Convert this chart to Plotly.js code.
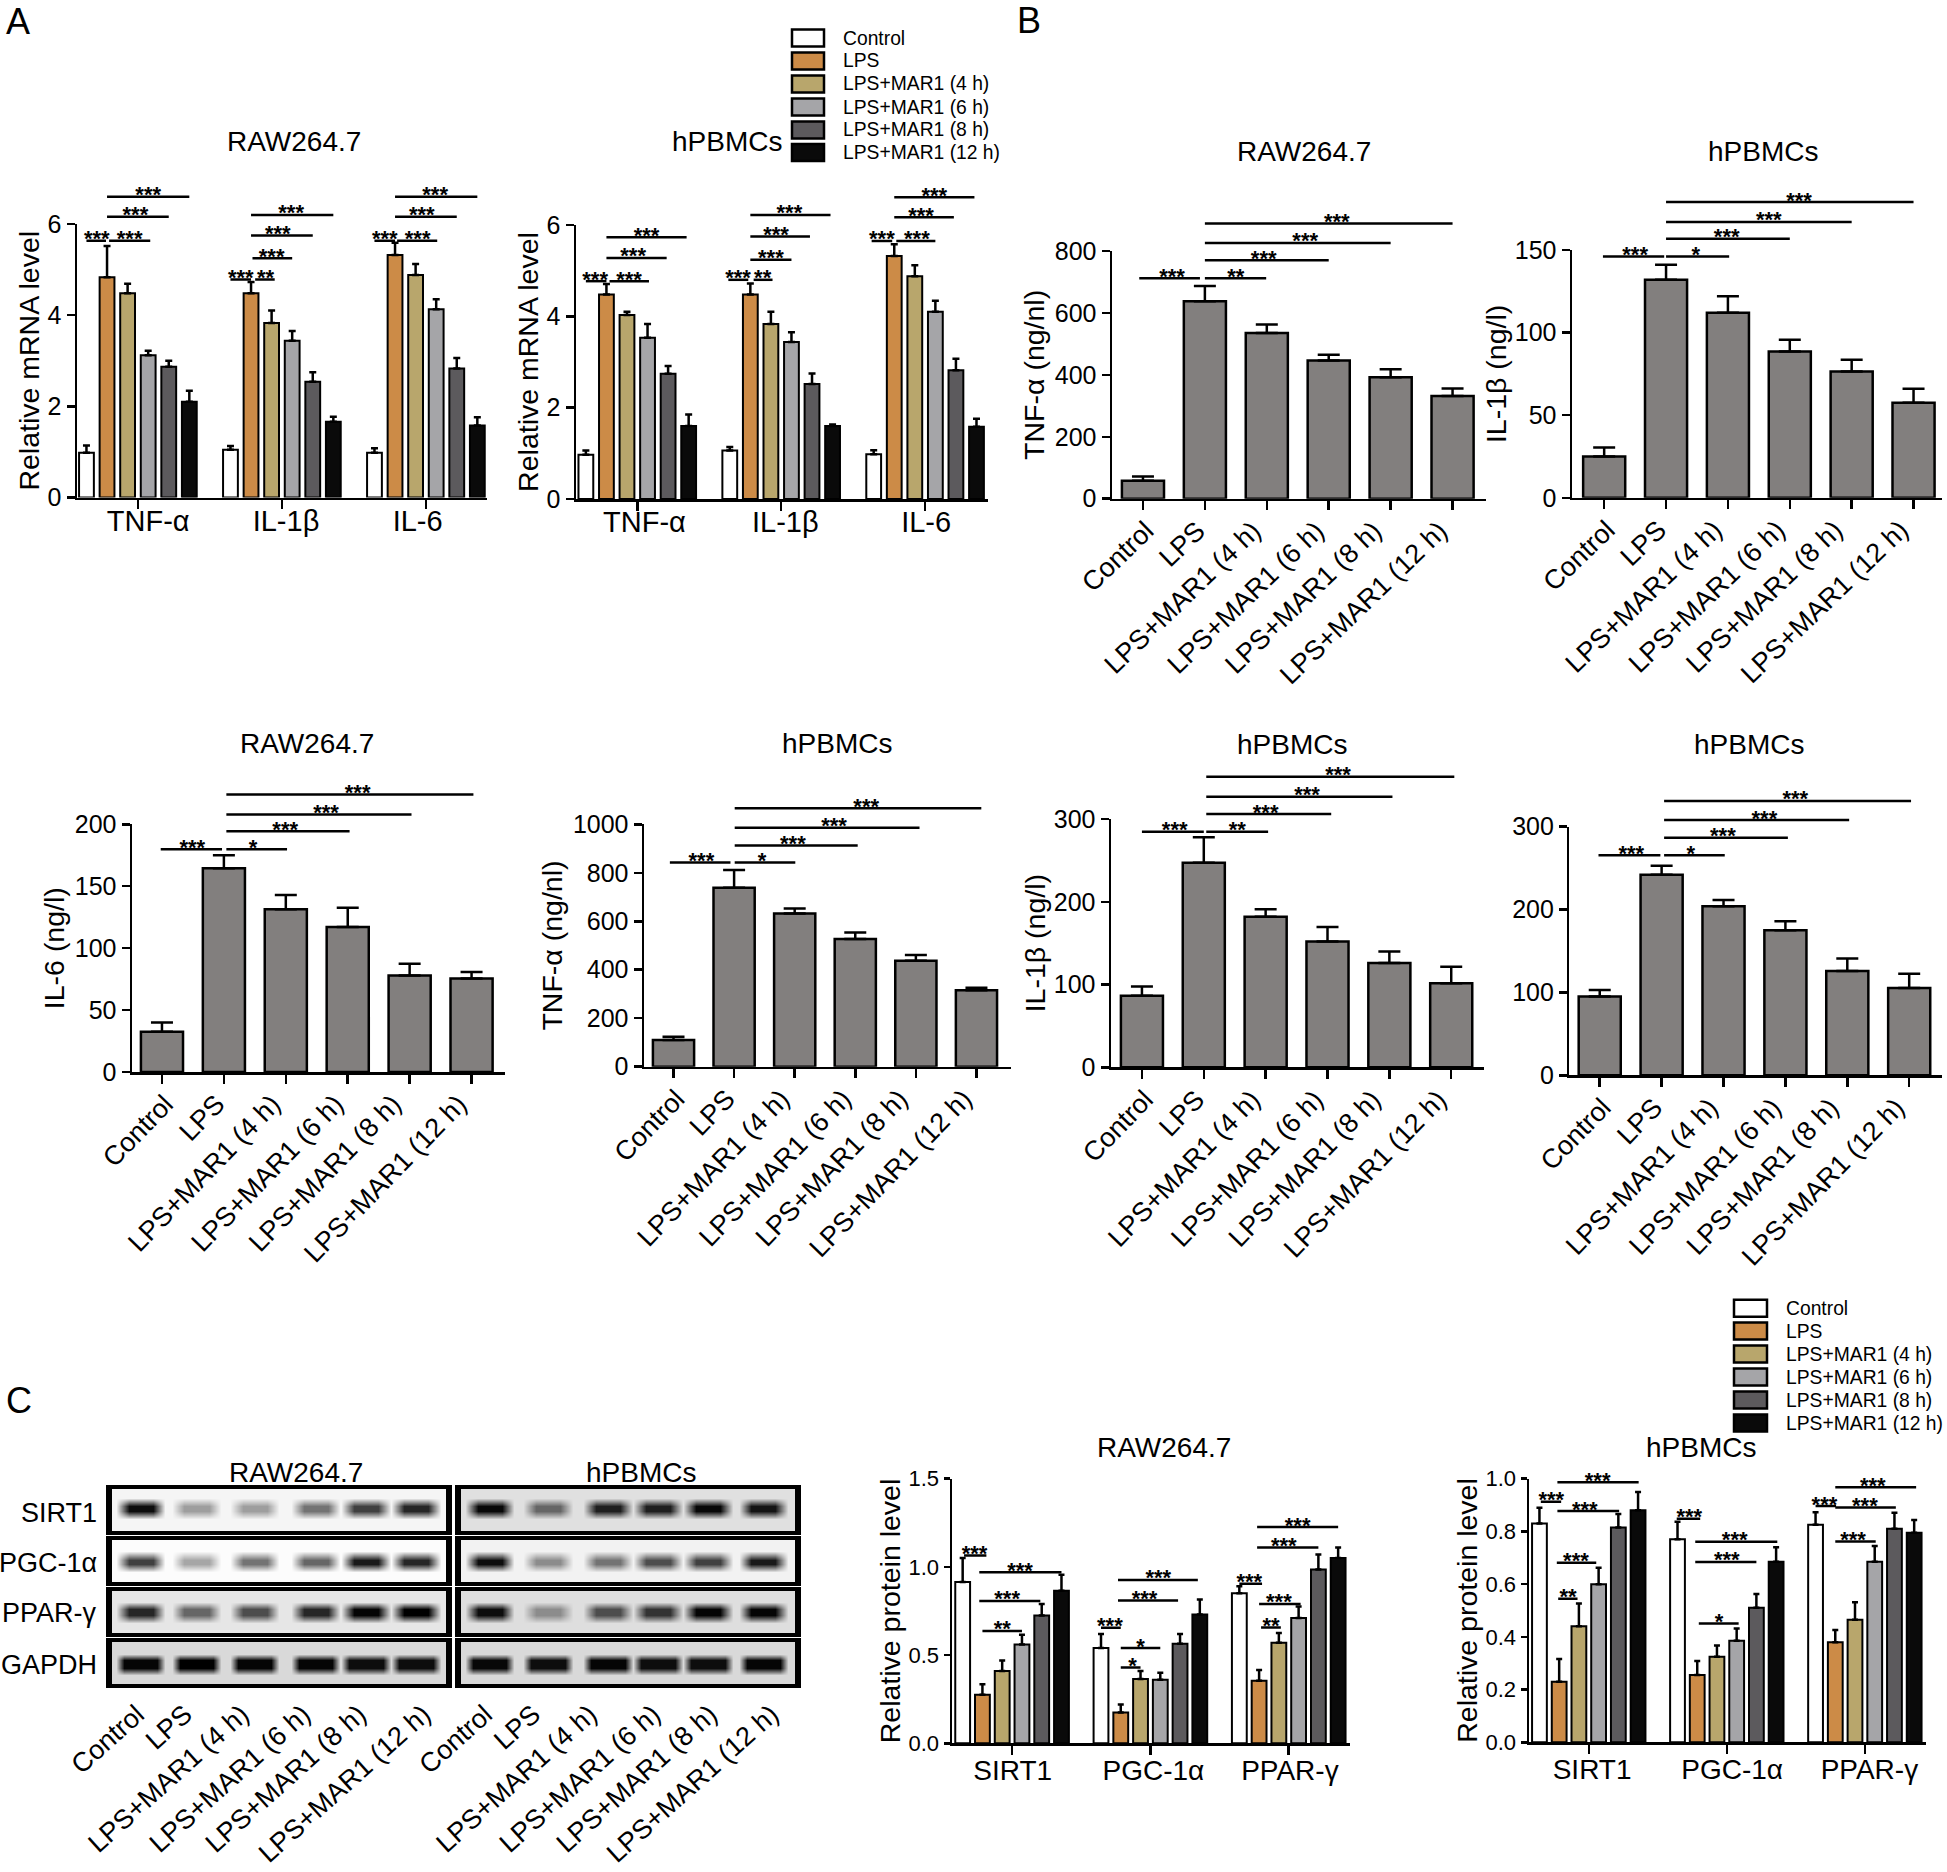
<!DOCTYPE html>
<html>
<head>
<meta charset="utf-8">
<script src="https://cdn.plot.ly/plotly-3.0.1.min.js"></script>
<style>html,body{margin:0;padding:0;background:#fff;overflow:hidden}</style>
</head>
<body>
<div id="chart" style="width:1947px;height:1872px"></div>
<script>
/* ---------- categories ---------- */
const treatments = ['Control','LPS','LPS+MAR1 (4 h)','LPS+MAR1 (6 h)','LPS+MAR1 (8 h)','LPS+MAR1 (12 h)'];
const mrnaTargets = ['TNF-α','IL-1β','IL-6'];
const proteinTargets = ['SIRT1','PGC-1α','PPAR-γ'];
const blotRows = ['SIRT1','PGC-1α','PPAR-γ','GAPDH'];

/* ---------- panel A: relative mRNA (rows = target, columns = treatment) ---------- */
const a1Means = [[0.98,4.83,4.48,3.12,2.87,2.10],[1.05,4.48,3.83,3.44,2.54,1.66],[0.98,5.32,4.88,4.13,2.83,1.58]];
const a1Tops  = [[1.14,5.52,4.69,3.22,3.00,2.34],[1.13,4.73,4.10,3.65,2.75,1.77],[1.08,5.59,5.12,4.35,3.06,1.76]];
const a2Means = [[0.97,4.48,4.03,3.53,2.74,1.60],[1.06,4.48,3.83,3.44,2.52,1.60],[0.98,5.32,4.88,4.10,2.82,1.58]];
const a2Tops  = [[1.06,4.71,4.10,3.83,2.91,1.85],[1.14,4.72,4.10,3.65,2.75,1.63],[1.07,5.58,5.12,4.34,3.07,1.76]];

/* ---------- panel B: cytokines (one value per treatment) ---------- */
const b1Means = [58,638,535,446,392,332];     const b1Tops = [72,687,563,465,418,356];
const b2Means = [25,132,112,88.5,76.5,57.5];  const b2Tops = [30.5,141,122,95.7,83.5,66];
const b3Means = [32.5,164.5,131.5,117,78,75.5]; const b3Tops = [40,175,143,132.7,87.5,80.8];
const b4Means = [110,738,632,527,437,315];    const b4Tops = [124,811,653,554,461,326];
const b5Means = [86.5,247,182,152,126,101.5]; const b5Tops = [97.5,278,191,169.5,140,121.6];
const b6Means = [95,242,204,175,126,105.5];   const b6Tops = [103,253,211.5,185.8,141,122.6];

/* ---------- panel C: relative protein ---------- */
const c1Means = [[0.915,0.275,0.41,0.56,0.725,0.865],[0.54,0.175,0.365,0.36,0.565,0.73],[0.85,0.355,0.57,0.71,0.985,1.05]];
const c1Tops  = [[1.05,0.335,0.47,0.615,0.79,0.955],[0.62,0.22,0.41,0.40,0.62,0.815],[0.89,0.415,0.625,0.775,1.07,1.11]];
const c2Means = [[0.83,0.23,0.44,0.60,0.815,0.88],[0.77,0.255,0.325,0.385,0.51,0.685],[0.825,0.38,0.465,0.685,0.81,0.795]];
const c2Tops  = [[0.89,0.316,0.527,0.662,0.866,0.95],[0.837,0.308,0.367,0.432,0.563,0.74],[0.873,0.426,0.531,0.745,0.871,0.843]];

/* ---------- significance brackets: from, to, level, label, label position ---------- */
const a1Sig = [[0,0.95,5.63,'***',0.5],[1.1,3.1,5.63,'***',2.1],[1,4,6.16,'***',2.38],[1,5,6.6,'***',3.0],
  [7,8,4.78,'***',7.5],[8.2,9.15,4.78,'**',8.7],[8.07,10,5.25,'***',9.0],[8,11,5.75,'***',9.3],[8,12,6.2,'***',9.95],
  [14,15,5.63,'***',14.5],[15.1,17.05,5.63,'***',16.1],[15,18,6.16,'***',16.3],[15,19,6.6,'***',16.95]];
const a2Sig = [[0,1,4.77,'***',0.45],[1.15,3.07,4.77,'***',2.1],[1,3.93,5.28,'***',2.3],[1,4.9,5.73,'***',2.95],
  [6.93,7.9,4.8,'***',7.4],[8.16,9.08,4.8,'**',8.6],[8,10,5.24,'***',9.0],[8,10.9,5.75,'***',9.25],[8,11.9,6.22,'***',9.9],
  [13.9,14.9,5.65,'***',14.4],[15.1,17,5.65,'***',16.1],[15,17.9,6.17,'***',16.3],[15,18.9,6.61,'***',16.95]];
const b1Sig = [[-0.06,0.92,712,'***',0.47],[1,1.99,712,'**',1.5],[1,3,770,'***',1.95],[1,4,826,'***',2.62],[1,5,889,'***',3.13]];
const b2Sig = [[-0.02,0.97,146,'***',0.5],[1,2.02,146,'*',1.48],[1,3,156.8,'***',1.98],[1,4,167,'***',2.66],[1,5,179,'***',3.15]];
const b3Sig = [[-0.02,0.97,179.8,'***',0.49],[1.04,2.02,179.8,'*',1.47],[1.04,3.03,194.3,'***',1.99],[1.04,4.03,208,'***',2.65],[1.04,5.03,224,'***',3.16]];
const b4Sig = [[-0.06,0.94,842,'***',0.46],[1.01,2.01,842,'*',1.46],[1.01,3.04,913,'***',1.97],[1.01,4.06,986,'***',2.65],[1.01,5.08,1066,'***',3.18]];
const b5Sig = [[0,1,284.7,'***',0.53],[1.04,2.04,284.7,'**',1.54],[1.04,3.06,306,'***',2.0],[1.04,4.05,327,'***',2.67],[1.04,5.05,351,'***',3.17]];
const b6Sig = [[-0.02,0.98,265.4,'***',0.51],[1.04,2.02,265.4,'*',1.47],[1.04,3.04,286.7,'***',1.99],[1.04,4.03,308,'***',2.66],[1.04,5.03,331,'***',3.16]];
const c1Sig = [[0.07,1.2,1.065,'***',0.6],[0.84,5,0.97,'***',2.9],[0.84,3.93,0.807,'***',2.25],[1,3,0.637,'**',2.0],
  [7,8,0.655,'***',7.45],[7.86,11.9,0.926,'***',9.9],[7.86,10.9,0.81,'***',9.2],[8,10,0.54,'*',9.0],[8,9,0.43,'*',8.6],
  [14,15.15,0.905,'***',14.5],[14.9,19,1.226,'***',16.95],[14.9,18,1.11,'***',16.25],[15,17.1,0.79,'***',16.0],[15.1,16.1,0.657,'**',15.6]];
const c2Sig = [[0.07,1.1,0.913,'***',0.6],[0.91,5.03,0.987,'***',2.95],[0.91,4.04,0.877,'***',2.3],[0.88,2.88,0.681,'***',1.85],[0.95,1.93,0.545,'**',1.45],
  [6.96,8.15,0.848,'***',7.6],[7.9,12.06,0.761,'***',9.9],[7.9,11,0.684,'***',9.5],[8.08,10.1,0.451,'*',9.1],
  [14,15.04,0.896,'***',14.45],[15,19.1,0.968,'***',16.9],[15,18.07,0.891,'***',16.5],[15,17.05,0.762,'***',15.9]];

/* ---------- tick values ---------- */
const mrnaTicks = [0,2,4,6];
const b1Ticks = [0,200,400,600,800];
const b2Ticks = [0,50,100,150];
const b3Ticks = [0,50,100,150,200];
const b4Ticks = [0,200,400,600,800,1000];
const b56Ticks = [0,100,200,300];
const c1Ticks = [0,0.5,1,1.5];
const c2Ticks = [0,0.2,0.4,0.6,0.8,1];
const groupTicks = [2.5,9.5,16.5];
const singleTicks = [0,1,2,3,4,5];
const a1LabelAt = [3.0,9.7,16.1];
const a2LabelAt = [2.85,9.7,16.55];
const c1LabelAt = [2.53,9.65,16.56];
const c2LabelAt = [2.67,9.77,16.73];
const rotatedLabelAt = [0.05,0.88,1.78,2.8,3.73,4.79];

/* ---------- western blot band darkness (0 white .. 1 black), six lanes ---------- */
const blotLeft  = [[0.95,0.38,0.38,0.55,0.75,0.85],[0.75,0.35,0.55,0.6,0.9,0.85],[0.85,0.6,0.7,0.85,0.98,1],[0.98,1,0.98,0.98,0.95,0.95]];
const blotRight = [[0.97,0.6,0.88,0.88,0.97,0.92],[0.95,0.45,0.55,0.7,0.75,0.9],[0.95,0.45,0.7,0.8,0.98,0.98],[0.97,0.95,0.98,0.95,0.95,0.98]];
const blotBgLeft  = [0.04,0.01,0.1,0.15];
const blotBgRight = [0.12,0.05,0.13,0.15];
const lanesLeft  = [0.086,0.253,0.427,0.61,0.76,0.91];
const lanesRight = [0.086,0.26,0.44,0.59,0.74,0.905];
const laneLabelsLeft  = [0.075,0.218,0.388,0.572,0.739,0.932];
const laneLabelsRight = [0.072,0.216,0.385,0.575,0.745,0.929];
const bandCentre = [0.47,0.52,0.5,0.53];
const bandHalfHeight = [0.06,0.05,0.07,0.09];

/* ---------- style ---------- */
const W = 1947, H = 1872, FONT = '"Liberation Sans", Arial, sans-serif';
const seriesColors = ['#ffffff','#cc8b47','#b8a66c','#a5a5a8','#5c5a5d','#0a0a0a'];
const barGray = '#827f7e';

const layout = {width:W, height:H, margin:{l:0,r:0,t:0,b:0}, autosize:false, showlegend:false,
  paper_bgcolor:'#fff', plot_bgcolor:'rgba(0,0,0,0)', font:{family:FONT,color:'#000'},
  annotations:[], shapes:[], bargap:0};
const traces = [];
let axisId = 0;
const newAxes = () => { axisId++; const s = axisId===1?'':String(axisId); return {xr:'x'+s, yr:'y'+s, xk:'xaxis'+s, yk:'yaxis'+s}; };
const domX = (a,b) => [a/W,b/W];
const domY = (top,bot) => [1-bot/H,1-top/H];

function text(str,x,y,size,extra){
  layout.annotations.push(Object.assign({text:str,x:x/W,y:1-y/H,xref:'paper',yref:'paper',showarrow:false,
    xanchor:'center',yanchor:'middle',font:{family:FONT,size:size,color:'#000'}},extra||{}));
}

function chart(p){
  const a = newAxes();
  const plotH = p.bot-p.top;
  layout[a.xk] = {domain:domX(p.left,p.right), range:p.xr, anchor:a.yr, showgrid:false, zeroline:false, showline:true,
    linecolor:'#000', linewidth:2.5, ticks:'outside', ticklen:9, tickwidth:2.5, tickcolor:'#000', tickmode:'array',
    tickvals:p.tickX, ticktext:p.tickX.map(()=>''), showticklabels:false};
  layout[a.yk] = {domain:domY(p.top,p.bot), range:[0,p.ymax], anchor:a.xr, showgrid:false, zeroline:false, showline:true,
    linecolor:'#000', linewidth:2.5, ticks:'outside', ticklen:p.ytick||8, tickwidth:2.5, tickcolor:'#000', tickmode:'array',
    tickvals:p.yticks, ticktext:p.yticks.map(v=>p.fmt?v.toFixed(1):String(v)), tickfont:{family:FONT,size:p.yfont,color:'#000'},
    title: p.ytitle?{text:p.ytitle,font:{family:FONT,size:28.5,color:'#000'},standoff:p.stand}:undefined};

  if(Array.isArray(p.means[0])){
    treatments.forEach((name,s)=>{
      const ys = p.means.map(r=>r[s]);
      const tops = p.tops.map(r=>r[s]);
      traces.push({type:'bar',name:name,x:p.means.map((r,g)=>g*7+s),y:ys,width:p.bw,xaxis:a.xr,yaxis:a.yr,
        marker:{color:seriesColors[s],line:{color:'#000',width:2}},hoverinfo:'skip',
        error_y:{type:'data',symmetric:false,array:tops.map((t,i)=>t-ys[i]),arrayminus:ys.map(()=>0),color:'#000',thickness:2.5,width:p.cap}});
    });
  } else {
    traces.push({type:'bar',name:p.ytitle||'',x:p.means.map((v,i)=>i),y:p.means,width:p.bw,xaxis:a.xr,yaxis:a.yr,
      marker:{color:barGray,line:{color:'#000',width:2.5}},hoverinfo:'skip',
      error_y:{type:'data',symmetric:false,array:p.tops.map((t,i)=>t-p.means[i]),arrayminus:p.means.map(()=>0),color:'#000',thickness:2.5,width:p.cap}});
  }

  /* taller transparent subplot on the same scale: brackets sit above the axis, labels below it */
  const o = newAxes();
  const extra = 115;
  layout[o.xk] = {domain:domX(p.left,p.right), range:p.xr, anchor:o.yr, showgrid:false, zeroline:false, showline:false, ticks:'',
    tickmode:'array', tickvals:p.labelAt, ticktext:p.labels, tickangle:p.angle, tickfont:{family:FONT,size:p.xfont,color:'#000'}, ticklabelstandoff:p.xstand||0};
  layout[o.yk] = {domain:domY(p.top-extra,p.bot), range:[0,p.ymax*(plotH+extra)/plotH], anchor:o.xr, visible:false};
  const lx=[], ly=[];
  p.sig.forEach(b=>{ lx.push(b[0],b[1],null); ly.push(b[2],b[2],null); });
  traces.push({type:'scatter',mode:'lines',x:lx,y:ly,xaxis:o.xr,yaxis:o.yr,line:{color:'#000',width:2.5},hoverinfo:'skip',showlegend:false});
  traces.push({type:'scatter',mode:'text',x:p.sig.map(b=>b[4]),y:p.sig.map(b=>b[2]),text:p.sig.map(b=>b[3]),textposition:'middle center',
    textfont:{family:FONT,size:22,color:'#000',weight:700},xaxis:o.xr,yaxis:o.yr,hoverinfo:'skip',showlegend:false,cliponaxis:false});
}

const rot = -42;
const rotRow1 = -44, rotRow2 = -46;

/* Panel A */
const aCommon = {tickX:groupTicks,labels:mrnaTargets,angle:0,xfont:29,yfont:25,yticks:mrnaTicks,ytitle:'Relative mRNA level',stand:0,bw:0.72,cap:3.5,ymax:6,xstand:3};
chart(Object.assign({},aCommon,{left:77,right:487,top:224,bot:497.5,xr:[-0.46,19.47],means:a1Means,tops:a1Tops,sig:a1Sig,labelAt:a1LabelAt}));
chart(Object.assign({},aCommon,{left:576,right:988,top:225,bot:499,xr:[-0.48,19.56],means:a2Means,tops:a2Tops,sig:a2Sig,labelAt:a2LabelAt}));
/* Panel B */
const bCommon = {tickX:singleTicks,labels:treatments,labelAt:rotatedLabelAt,xfont:27,yfont:25,bw:0.68,cap:11,xr:[-0.5,5.54],xstand:10};
chart(Object.assign({},bCommon,{angle:rotRow1,left:1112,right:1486,top:251,bot:498.7,ymax:800,means:b1Means,tops:b1Tops,sig:b1Sig,yticks:b1Ticks,ytitle:'TNF-α (ng/nl)',stand:2}));
chart(Object.assign({},bCommon,{angle:rotRow1,left:1572,right:1942,top:250,bot:497.8,ymax:150,means:b2Means,tops:b2Tops,sig:b2Sig,yticks:b2Ticks,ytitle:'IL-1β (ng/l)',stand:0,xr:[-0.52,5.46]}));
chart(Object.assign({},bCommon,{angle:rotRow2,left:132,right:505,top:824.3,bot:1072,ymax:200,means:b3Means,tops:b3Tops,sig:b3Sig,yticks:b3Ticks,ytitle:'IL-6 (ng/l)',stand:2,xr:[-0.484,5.54]}));
chart(Object.assign({},bCommon,{angle:rotRow2,left:644,right:1011,top:824.3,bot:1066.7,ymax:1000,means:b4Means,tops:b4Tops,sig:b4Sig,yticks:b4Ticks,ytitle:'TNF-α (ng/nl)',stand:2,xr:[-0.487,5.57]}));
chart(Object.assign({},bCommon,{angle:rotRow2,left:1111,right:1484,top:819,bot:1067.3,ymax:300,means:b5Means,tops:b5Tops,sig:b5Sig,yticks:b56Ticks,ytitle:'IL-1β (ng/l)',stand:0,xr:[-0.5,5.53]}));
chart(Object.assign({},bCommon,{angle:rotRow2,left:1569.4,right:1942,top:826.7,bot:1075.3,ymax:300,means:b6Means,tops:b6Tops,sig:b6Sig,yticks:b56Ticks,xr:[-0.49,5.53]}));
/* Panel C charts */
const cCommon = {tickX:groupTicks,labels:proteinTargets,angle:0,xfont:28,yfont:22,ytick:6,fmt:true,ytitle:'Relative protein level',stand:0,bw:0.75,cap:3,xstand:8};
chart(Object.assign({},cCommon,{left:952,right:1350,top:1478.7,bot:1743.3,xr:[-0.54,19.6],ymax:1.5,means:c1Means,tops:c1Tops,sig:c1Sig,yticks:c1Ticks,labelAt:c1LabelAt}));
chart(Object.assign({},cCommon,{left:1529,right:1926,top:1478.7,bot:1742.3,xr:[-0.53,19.6],ymax:1,means:c2Means,tops:c2Tops,sig:c2Sig,yticks:c2Ticks,labelAt:c2LabelAt}));

/* Panel C blots */
function blot(left,right,top,bot,darkness,bg,lanes,labelsAt,centre,halfH,showTicks,core){
  const a = newAxes();
  const xs=[0], ys=[0, centre-0.25, centre-halfH, centre+halfH, centre+0.25, 1];
  lanes.forEach(c=>xs.push(c-0.074,c-core,c+core,c+0.074));
  xs.push(1);
  const row=[bg]; darkness.forEach(d=>row.push(bg,d,d,bg)); row.push(bg);
  const bgRow=row.map(()=>bg);
  const z=[bgRow,bgRow,row,row,bgRow,bgRow];
  traces.push({type:'heatmap',x:xs,y:ys,z:z,zmin:0,zmax:1,zsmooth:'best',showscale:false,hoverinfo:'skip',
    colorscale:[[0,'#ffffff'],[1,'#000000']],xaxis:a.xr,yaxis:a.yr});
  layout[a.xk]={domain:domX(left,right),range:[0,1],anchor:a.yr,showgrid:false,zeroline:false,showline:true,mirror:true,linecolor:'#000',linewidth:4,
    ticks:'',tickmode:'array',tickvals:showTicks?labelsAt:[],ticktext:showTicks?treatments:[],tickangle:rot,showticklabels:showTicks,
    tickfont:{family:FONT,size:27,color:'#000'},ticklabelstandoff:0};
  layout[a.yk]={domain:domY(top,bot),range:[1,0],anchor:a.xr,showgrid:false,zeroline:false,showline:true,mirror:true,linecolor:'#000',linewidth:6,ticks:'',showticklabels:false};
}
const rowTops=[1489,1540,1591,1642], rowBots=[1531,1582,1633,1684], rowLabelY=[1513,1563,1613,1665];
blotRows.forEach((name,r)=>{
  const core = r===3?0.05:0.036;
  blot(112,446,rowTops[r],rowBots[r],blotLeft[r],blotBgLeft[r],lanesLeft,laneLabelsLeft,bandCentre[r],bandHalfHeight[r],r===3,core);
  blot(461,795,rowTops[r],rowBots[r],blotRight[r],blotBgRight[r],lanesRight,laneLabelsRight,bandCentre[r],bandHalfHeight[r],r===3,core);
  text(name,99,rowLabelY[r],27,{xanchor:'right'});
});

/* Panel letters and titles */
text('A',18,22,36); text('B',1029,21,36); text('C',19,1400,36);
[['RAW264.7',294,142],['hPBMCs',727,142],['RAW264.7',1304,151],['hPBMCs',1763,151],
 ['RAW264.7',307,744],['hPBMCs',837,744],['hPBMCs',1292,745],['hPBMCs',1749,745],
 ['RAW264.7',295.5,1472.7],['hPBMCs',640.7,1472.7],['RAW264.7',1164,1447],['hPBMCs',1701,1447]]
 .forEach(t=>text(t[0],t[1],t[2],28));

/* Legend keys */
function legendKey(x0,x1,textX,rows,h){
  treatments.forEach((name,i)=>{
    layout.shapes.push({type:'rect',xref:'paper',yref:'paper',x0:x0/W,x1:x1/W,y0:1-(rows[i]+h/2)/H,y1:1-(rows[i]-h/2)/H,
      fillcolor:seriesColors[i],line:{color:'#000',width:2.5}});
    text(name,textX,rows[i],19.3,{xanchor:'left'});
  });
}
legendKey(792,824,841,[38,61,84,107,130,152.5],17);
legendKey(1734,1767,1783.5,[1308.3,1331,1354,1377,1400,1423],17);

Plotly.newPlot('chart',traces,layout,{displayModeBar:false,staticPlot:true});
</script>
</body>
</html>
